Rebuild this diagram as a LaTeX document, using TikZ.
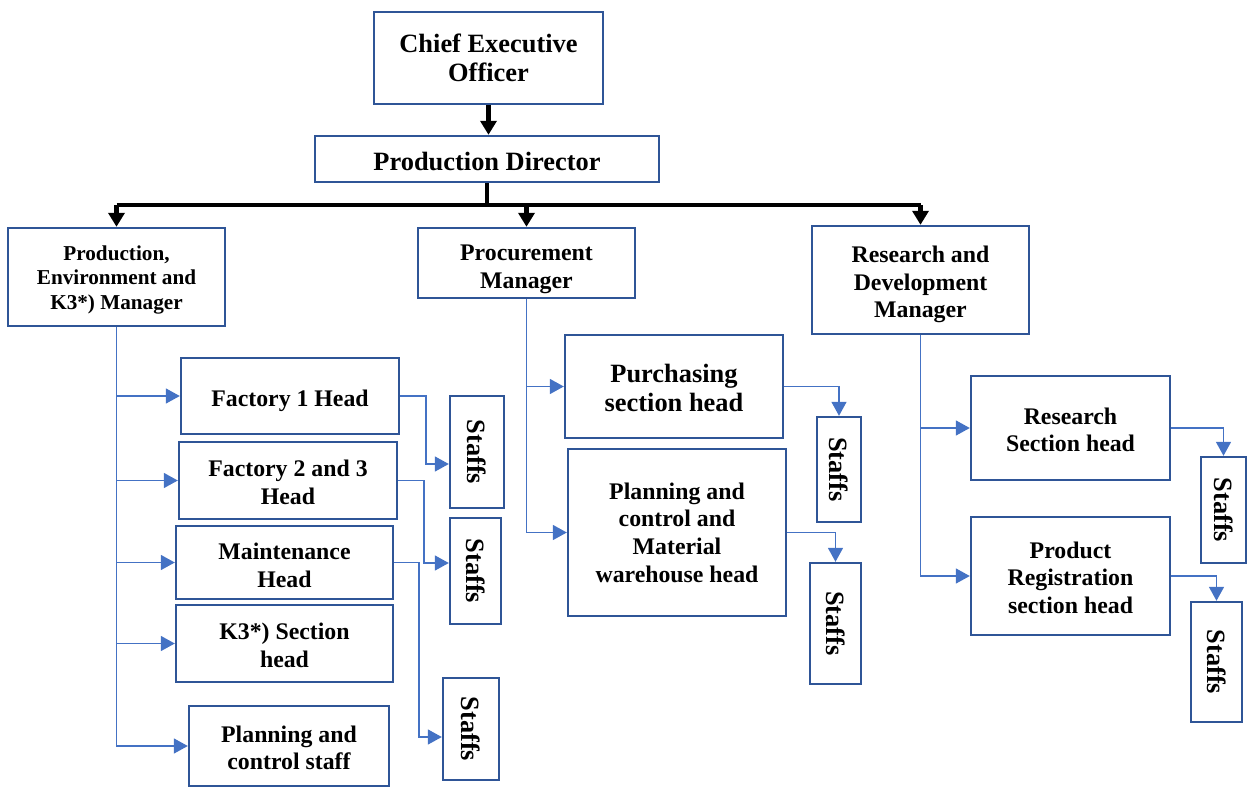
\documentclass[tikz,border=0pt]{standalone}
\usepackage{fontspec}
\usepackage{graphicx}
\setmainfont{Liberation Serif}
\usetikzlibrary{arrows.meta}
\definecolor{boxblue}{HTML}{2F5597}
\definecolor{linkblue}{HTML}{4472C4}
\newcommand{\topgap}[1]{\rule{0pt}{#1}}

\begin{document}
\begin{tikzpicture}[x=0.5pt,y=-0.5pt,
    box/.style={draw=boxblue, line width=1.2pt, fill=white, align=center, inner sep=0pt,
      font=\bfseries\fontsize{11.9}{13.8}\selectfont},
    bigbox/.style={box, font=\bfseries\fontsize{13.2}{14.6}\selectfont},
    staffbox/.style={box, font=\bfseries\fontsize{13.2}{14.6}\selectfont},
    link/.style={draw=linkblue, line width=0.75pt, -{Triangle[length=7pt,width=7.5pt]}},
    mainlink/.style={draw=black, line width=2.2pt},
    mainarrow/.style={mainlink, -{Triangle[length=7pt,width=8pt]}}]
    \useasboundingbox (0,0) rectangle (1253,787);

    % Direksi
    \node[bigbox, minimum width=114.5pt, minimum height=46pt] (ceo) at (488.5,58) {Chief Executive\\Officer};
    \node[bigbox, minimum width=172pt, minimum height=23pt] (pd) at (487,159) {\topgap{12pt}Production Director};

    % Manajer
    \node[box, minimum width=108.5pt, minimum height=49pt, font=\bfseries\fontsize{10.6}{12.25}\selectfont] (pem) at (116.5,277) {\topgap{10.2pt}Production,\\Environment and\\K3*) Manager};
    \node[box, minimum width=108.5pt, minimum height=35pt] (pm) at (526.5,263) {\topgap{14pt}Procurement\\Manager};
    \node[box, minimum width=108.5pt, minimum height=54pt] (rdm) at (920.5,280) {\topgap{13pt}Research and\\Development\\Manager};

    % Kepala bagian produksi
    \node[box, minimum width=109pt, minimum height=38pt] (f1) at (290,396) {\topgap{13pt}Factory 1 Head};
    \node[box, minimum width=109pt, minimum height=38.5pt] (f23) at (288,480.5) {\topgap{10pt}Factory 2 and 3\\Head};
    \node[box, minimum width=108.5pt, minimum height=36.5pt] (mh) at (284.5,562.5) {\topgap{11pt}Maintenance\\Head};
    \node[box, minimum width=108.5pt, minimum height=38.5pt] (k3) at (284.5,643.5) {\topgap{10pt}K3*) Section\\head};
    \node[box, minimum width=100pt, minimum height=40pt] (pcs) at (289,746) {\topgap{10pt}Planning and\\control staff};

    % Kepala bagian pengadaan
    \node[bigbox, minimum width=109pt, minimum height=51.5pt] (pur) at (674,386.5) {\topgap{11pt}Purchasing\\section head};
    \node[box, minimum width=109pt, minimum height=83.5pt] (pcm) at (677,532.5) {Planning and\\control and\\Material\\warehouse head};

    % Kepala bagian litbang
    \node[box, minimum width=99.5pt, minimum height=52pt] (rsh) at (1070.5,428) {\topgap{10pt}Research\\Section head};
    \node[box, minimum width=99.5pt, minimum height=59pt] (prs) at (1070.5,576) {\topgap{10pt}Product\\Registration\\section head};

    % Staf
    \node[staffbox, minimum width=27pt, minimum height=56pt] (st1) at (477,452) {\rotatebox{-90}{Staffs}};
    \node[staffbox, minimum width=25.5pt, minimum height=53pt] (st2) at (475.5,571) {\rotatebox{-90}{Staffs}};
    \node[staffbox, minimum width=28pt, minimum height=51pt] (st3) at (471,729) {\rotatebox{-90}{Staffs}};
    \node[staffbox, minimum width=22pt, minimum height=52.5pt] (st4) at (839,469.5) {\rotatebox{-90}{Staffs}};
    \node[staffbox, minimum width=25.5pt, minimum height=60.5pt] (st5) at (835.5,623.5) {\rotatebox{-90}{Staffs}};
    \node[staffbox, minimum width=22.5pt, minimum height=53pt] (st6) at (1223.5,510) {\rotatebox{-90}{Staffs}};
    \node[staffbox, minimum width=25.5pt, minimum height=60pt] (st7) at (1216.5,662) {\rotatebox{-90}{Staffs}};

    % Garis utama (hitam)
    \coordinate (bus) at (487,205);
    \draw[mainarrow] (ceo.south) -- (ceo.south |- pd.north);
    \draw[mainlink] (pd.south) -- (bus);
    \draw[mainlink] (pem.north |- bus) -- (rdm.north |- bus);
    \draw[mainarrow] (pem.north |- bus) -- (pem.north);
    \draw[mainarrow] (pm.north |- bus) -- (pm.north);
    \draw[mainarrow] (rdm.north |- bus) -- (rdm.north);

    % Cabang produksi
    \draw[link] (pem.south) |- (f1.west);
    \draw[link] (pem.south) |- (f23.west);
    \draw[link] (pem.south) |- (mh.west);
    \draw[link] (pem.south) |- (k3.west);
    \draw[link] (pem.south) |- (pcs.west);
    \draw[link] (f1.east) -- ++(26,0) |- ([yshift=-6pt]st1.west);
    \draw[link] (f23.east) -- ++(26,0) |- ([yshift=4pt]st2.west);
    \draw[link] (mh.east) -- ++(25,0) |- ([yshift=-4pt]st3.west);

    % Cabang pengadaan
    \draw[link] (pm.south) |- (pur.west);
    \draw[link] (pm.south) |- (pcm.west);
    \draw[link] (pur.east) -| (st4.north);
    \draw[link] (pcm.east) -| (st5.north);

    % Cabang litbang
    \draw[link] (rdm.south) |- (rsh.west);
    \draw[link] (rdm.south) |- (prs.west);
    \draw[link] (rsh.east) -| (st6.north);
    \draw[link] (prs.east) -| (st7.north);
\end{tikzpicture}
\end{document}
